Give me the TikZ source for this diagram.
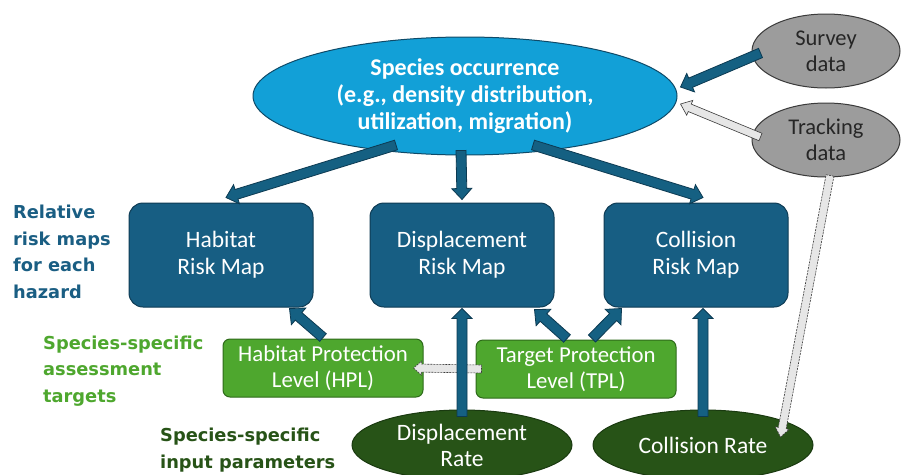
\documentclass[tikz,border=0pt]{standalone}
\usepackage{fontspec}
\setmainfont{Carlito}
\newfontfamily\lblfont{DejaVu Sans}
\usetikzlibrary{shapes.geometric,calc}
\definecolor{occfill}{HTML}{12A0D7}
\definecolor{occline}{HTML}{0F4A68}
\definecolor{boxfill}{HTML}{175E83}
\definecolor{boxline}{HTML}{0E3B54}
\definecolor{arrfill}{HTML}{156082}
\definecolor{arrline}{HTML}{0C3A52}
\definecolor{grayfill}{HTML}{9C9C9C}
\definecolor{grayline}{HTML}{3A3A3A}
\definecolor{grnfill}{HTML}{4EA72E}
\definecolor{grnline}{HTML}{2E6B1A}
\definecolor{dgrnfill}{HTML}{275317}
\definecolor{dgrnline}{HTML}{1A3A10}
\definecolor{lightfill}{HTML}{E6E6E6}
\definecolor{lightline}{HTML}{3A3A3A}
\definecolor{lblblue}{HTML}{1A5E83}
\definecolor{lblgreen}{HTML}{4EA72E}
\definecolor{lbldgreen}{HTML}{275317}
\newcommand\blockarr[6]{%
  \coordinate (ba-h) at ($(#3)!#6!(#2)$);
  \draw[#1] ($(#2)!#4!90:(#3)$) -- ($(ba-h)!#4!90:(#3)$) -- ($(ba-h)!#5!90:(#3)$) -- (#3)
    -- ($(ba-h)!#5!-90:(#3)$) -- ($(ba-h)!#4!-90:(#3)$) -- ($(#2)!#4!-90:(#3)$) -- cycle;
}
\begin{document}
\begin{tikzpicture}[x=1pt,y=-1pt,
  occstyle/.style={ellipse, draw=occline, fill=occfill, line width=1pt, minimum width=424pt, minimum height=118pt, inner sep=0pt, text=white, font=\bfseries\fontsize{24}{27}\selectfont, align=center},
  mapbox/.style={rectangle, rounded corners=14pt, draw=boxline, fill=boxfill, line width=1pt, minimum width=184pt, minimum height=104pt, inner sep=0pt, text=white, font=\fontsize{23.5}{27}\selectfont, align=center},
  datae/.style={ellipse, draw=grayline, fill=grayfill, line width=1pt, minimum width=148pt, minimum height=74pt, inner sep=0pt, text=black!85, font=\fontsize{22.5}{26}\selectfont, align=center},
  grnbox/.style={rectangle, rounded corners=7pt, draw=grnline, fill=grnfill, line width=1pt, minimum width=200pt, minimum height=58pt, inner sep=0pt, text=white, font=\fontsize{22.8}{25.5}\selectfont, align=center},
  ratee/.style={ellipse, draw=dgrnline, fill=dgrnfill, line width=1pt, minimum width=220pt, minimum height=70pt, inner sep=0pt, text=white, font=\fontsize{23.5}{26}\selectfont, align=center},
  lbl/.style={anchor=west, align=left, inner sep=0pt, font=\lblfont\bfseries\fontsize{17.8}{26.5}\selectfont},
  bluearr/.style={fill=arrfill, draw=arrline, line width=0.8pt, line join=miter},
  lightarr/.style={fill=lightfill, draw=lightline, line width=0.6pt, line join=miter},
  dasharr/.style={lightarr, dash pattern=on 2pt off 1pt}
]
\fill[white] (0,0) rectangle (901,474);
\useasboundingbox (0,0) rectangle (901,474);

% nodes
\node[occstyle] (occ) at (465,96) {Species occurrence\\(e.g., density distribution,\\utilization, migration)};
\node[datae] (survey) at (826,51) {Survey\\data};
\node[datae] (track) at (826,140) {Tracking\\data};
\node[mapbox] (hab) at (221,255) {Habitat\\Risk Map};
\node[mapbox] (disp) at (462,255) {Displacement\\Risk Map};
\node[mapbox] (coll) at (696,255) {Collision\\Risk Map};
\node[grnbox] (hpl) at (323,368) {Habitat Protection\\Level (HPL)};
\node[grnbox] (tpl) at (576,369) {Target Protection\\Level (TPL)};
\node[ratee] (drate) at (462,445) {Displacement\\Rate};
\node[ratee] (crate) at (703,445) {Collision Rate};

\node[lbl, text=lblblue] (l1) at (13,252) {Relative\\risk maps\\for each\\hazard};
\node[lbl, text=lblgreen] (l2) at (43,371) {Species-specific\\assessment\\targets};
\node[lbl, text=lbldgreen] (l3) at (160,450) {Species-specific\\input parameters};

% arrow end points
\coordinate (a1s) at ($(occ.center)+(-69,49)$);
\coordinate (a1e) at ($(hab.north)+(5,-5)$);
\coordinate (a2s) at ($(occ.south)+(-4,-5)$);
\coordinate (a2e) at ($(disp.north)+(0,-3)$);
\coordinate (a3s) at ($(occ.center)+(68,49)$);
\coordinate (a3e) at ($(coll.north)+(7,-5)$);
\coordinate (a4s) at ($(survey.west)+(9,2)$);
\coordinate (a4e) at ($(occ.east)+(3,-9)$);
\coordinate (a5s) at ($(track.west)+(9,-3)$);
\coordinate (a5e) at ($(occ.east)+(3,8)$);
\coordinate (a6s) at ($(hpl.north)+(0,-1)$);
\coordinate (a6e) at ($(hab.south east)+(-24,1)$);
\coordinate (a7s) at ($(tpl.north)+(-9,-1)$);
\coordinate (a7e) at ($(disp.south east)+(-20,2)$);
\coordinate (a8s) at ($(tpl.north)+(16,-1)$);
\coordinate (a8e) at ($(coll.south west)+(18,1)$);
\coordinate (a9s) at ($(tpl.west)+(6,0)$);
\coordinate (a9e) at ($(hpl.east)+(-10,0)$);
\coordinate (a10s) at ($(drate.north)+(0,7)$);
\coordinate (a10e) at ($(disp.south)+(0,1)$);
\coordinate (a11s) at ($(crate.north)+(0,7)$);
\coordinate (a11e) at ($(crate.north |- coll.south)+(0,1)$);
\coordinate (a12s) at ($(track.south)+(4,-2)$);
\coordinate (a12e) at ($(crate.east)+(-33,-8)$);

% arrows
\blockarr{bluearr}{a1s}{a1e}{5pt}{10pt}{11pt}
\blockarr{bluearr}{a2s}{a2e}{5pt}{10pt}{11pt}
\blockarr{bluearr}{a3s}{a3e}{5pt}{10pt}{11pt}
\blockarr{bluearr}{a4s}{a4e}{5pt}{10pt}{11pt}
\blockarr{lightarr}{a5s}{a5e}{4pt}{8pt}{10pt}
\blockarr{bluearr}{a6s}{a6e}{5pt}{11pt}{12pt}
\blockarr{bluearr}{a7s}{a7e}{5pt}{11pt}{12pt}
\blockarr{bluearr}{a8s}{a8e}{5pt}{11pt}{12pt}
\blockarr{dasharr}{a9s}{a9e}{4pt}{7pt}{8pt}
\blockarr{bluearr}{a10s}{a10e}{5pt}{10pt}{10pt}
\blockarr{bluearr}{a11s}{a11e}{5pt}{10pt}{10pt}
\blockarr{dasharr}{a12s}{a12e}{4pt}{7pt}{9pt}
\end{tikzpicture}
\end{document}
